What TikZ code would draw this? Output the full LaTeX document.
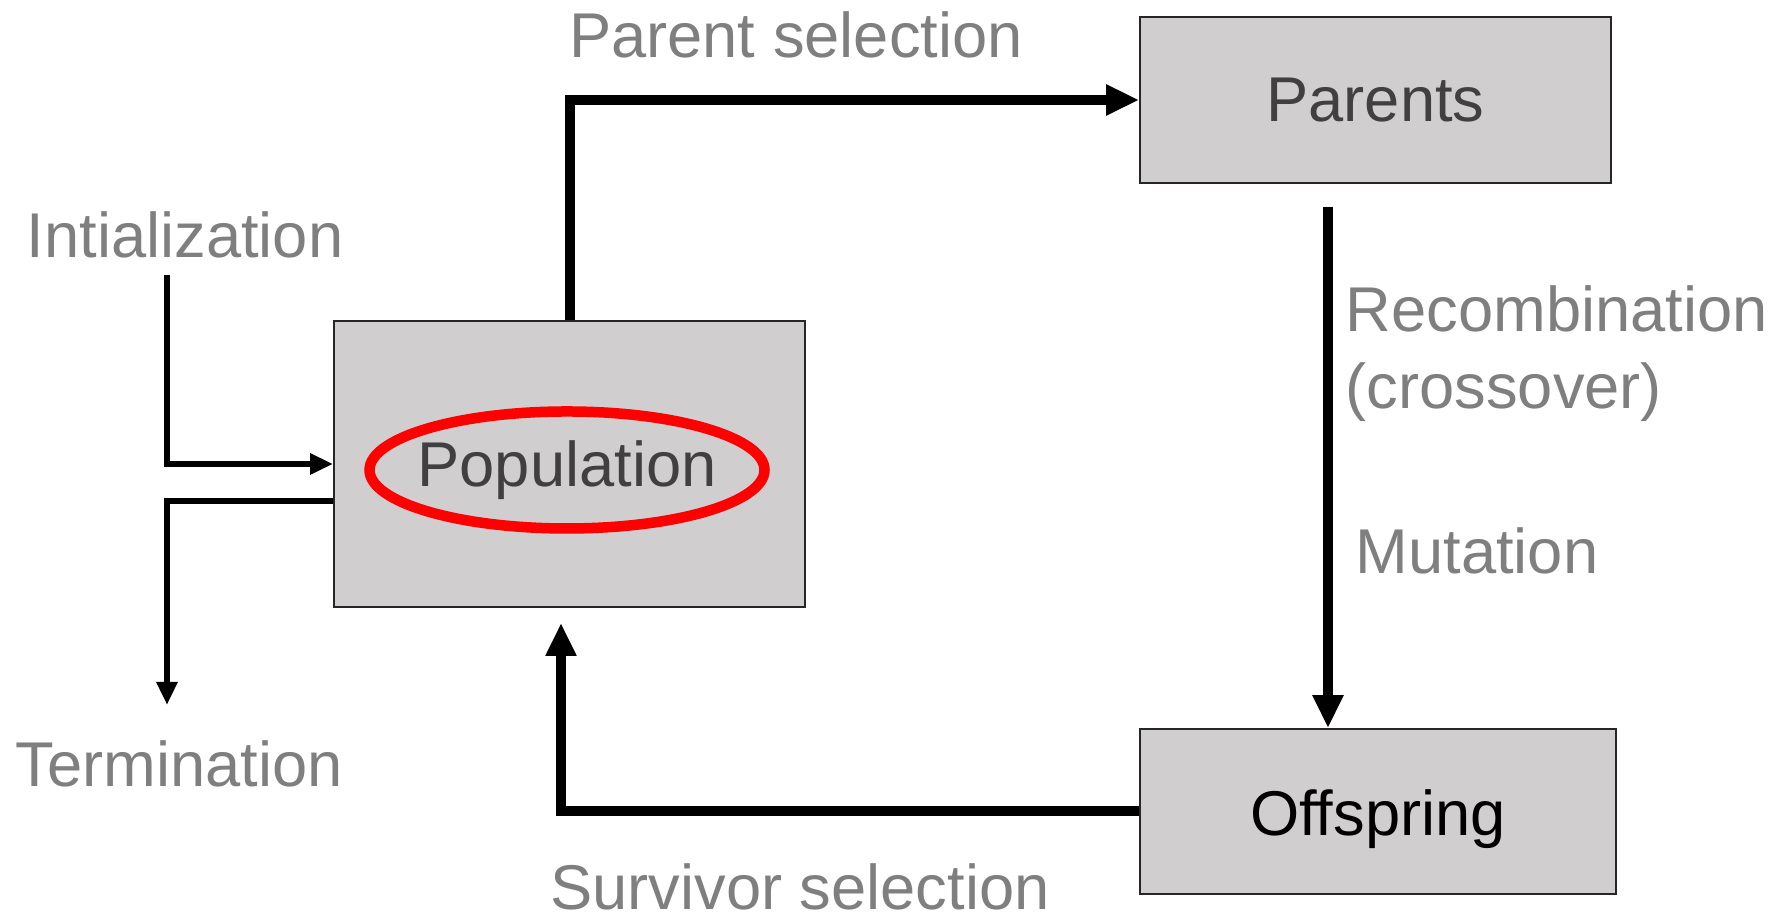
\documentclass[tikz,border=0pt]{standalone}
\usepackage{fontspec}
\setmainfont{Liberation Sans}
\usepackage{xcolor}
\usepackage{tikz}
\usetikzlibrary{positioning, arrows.meta, shapes.geometric, calc}

\definecolor{boxgray}{RGB}{208,206,207}
\definecolor{labelgray}{RGB}{127,127,127}
\definecolor{textdark}{RGB}{64,64,64}

\begin{document}
\begin{tikzpicture}[
    stage/.style={draw=black!85, fill=boxgray, rectangle, line width=0.5pt,
                  font=\fontsize{18}{21.6}\selectfont, inner sep=0pt},
    ring/.style={draw=red, ellipse, line width=0.105cm, minimum width=3.95cm,
                 minimum height=1.17cm, inner sep=0pt},
    inner/.style={text=textdark, inner sep=0pt, font=\fontsize{18}{21.6}\selectfont},
    flow/.style={line width=0.1cm, -{Triangle[length=0.33cm, width=0.29cm]}},
    io/.style={line width=0.06cm, -{Triangle[length=0.23cm, width=0.2cm]}},
    lbl/.style={font=\fontsize{18}{21.6}\selectfont, text=labelgray, inner sep=0pt},
]
\useasboundingbox (0,0) rectangle (17.83,9.22);

% === Boxes ===
\node[stage, minimum width=4.71cm, minimum height=2.86cm] (pop) at (5.695, 4.58) {};
\node[ring] (popring) at (5.67, 4.52) {};
\node[inner] (poptext) at (popring) {Population};
\node[stage, minimum width=4.71cm, minimum height=1.66cm, text=textdark] (parents) at (13.755, 8.22) {Parents};
\node[stage, minimum width=4.76cm, minimum height=1.65cm,
      text height=0.6cm, text depth=0.11cm] (offspring) at (13.78, 1.105) {Offspring};

% === Labels ===
\node[lbl, anchor=base] (psel) at (7.96, 8.64) {Parent selection};
\node[lbl, anchor=base] (init) at (1.85, 6.64) {Intialization};
\node[lbl, anchor=base] (term) at (1.79, 1.35) {Termination};
\node[lbl, anchor=base] (ssel) at (8.00, 0.12) {Survivor selection};
\node[lbl, anchor=base west] (recomb) at (13.45, 5.90) {Recombination};
\node[lbl, anchor=base west] (cross) at (13.45, 5.13) {(crossover)};
\node[lbl, anchor=base west] (mut) at (13.55, 3.48) {Mutation};

% === Connectors ===
\coordinate (recin) at (13.28, 7.15);
\coordinate (survend) at (5.61, 2.99);
\coordinate (initin) at (1.67, 6.47);
\coordinate (termend) at (1.67, 2.17);

\draw[flow] (pop.north) |- (parents.west);
\draw[flow] (recin) -- (recin |- offspring.north);
\draw[flow] (offspring.west) -| (survend);
\draw[io] (initin) |- (pop.west);
\draw[io] ([yshift=-0.37cm]pop.west) -| (termend);

\end{tikzpicture}
\end{document}
